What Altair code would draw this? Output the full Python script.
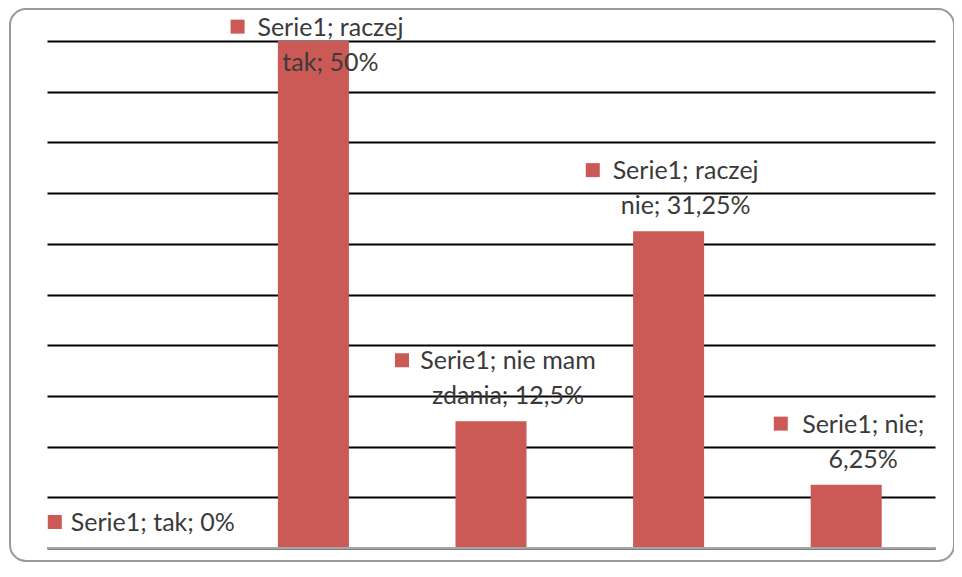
import altair as alt
import pandas as pd

categories = ["tak", "raczej tak", "nie mam zdania", "raczej nie", "nie"]
values = [0, 50, 12.5, 31.25, 6.25]
# data labels as wrapped in the original chart
label_line1 = ["Serie1; tak; 0%", "Serie1; raczej", "Serie1; nie mam", "Serie1; raczej", "Serie1; nie;"]
label_line2 = ["", "tak; 50%", "zdania; 12,5%", "nie; 31,25%", "6,25%"]
grid_values = [0, 5, 10, 15, 20, 25, 30, 35, 40, 45, 50]

BAR = "#CB5A56"
TXT = "#3a3a3a"
FONT = "Lato"
FS = 25
LH = 35

df = pd.DataFrame({
    "cat": categories,
    "value": values,
    "line1": label_line1,
    "line2": label_line2,
})
df["label"] = [a if not b else a + "\n" + b for a, b in zip(label_line1, label_line2)]
df["nlines"] = [1 if not b else 2 for b in label_line2]

W, H = 888, 507
PX = H / 50.0  # pixels per percentage point

x = alt.X("cat:N", sort=categories, axis=None,
          scale=alt.Scale(paddingInner=0.6, paddingOuter=0.3))
y = alt.Y("value:Q", scale=alt.Scale(domain=[0, 50], nice=False, zero=True),
          axis=alt.Axis(values=grid_values, labels=False, ticks=False, domain=False,
                        grid=True, gridColor="#000000", gridWidth=2, title=None))

base = alt.Chart(df)

frame = base.mark_rect(fill="transparent", stroke="#9a9a9a", strokeWidth=2,
                       cornerRadius=16, clip=False).encode(
    x=alt.value(-37), x2=alt.value(W + 19),
    y=alt.value(-32), y2=alt.value(H + 13),
).transform_filter("datum.cat == 'tak'")

bars = base.mark_bar(color=BAR).encode(x=x, y=y)

zero_rule = base.mark_rule(color="#a6a6a6", strokeWidth=2).encode(
    y=alt.datum(0), x=alt.value(0), x2=alt.value(W)
).transform_filter("datum.cat == 'tak'")

lab = base.transform_calculate(
    ly="min(datum.value, 45.4)",
).transform_calculate(
    tly=f"datum.ly + (datum.nlines - 1) * {LH} / {PX}",
    sqv=f"datum.ly + (26 + (datum.nlines - 1) * {LH}) / {PX}",
    nm="length(split(datum.line1, 'm')) - 1",
)

texts = lab.mark_text(align="center", baseline="bottom", dx=17, dy=-12,
                      fontSize=FS, font=FONT, color=TXT, lineHeight=LH,
                      lineBreak="\n", clip=False).encode(
    x=alt.X("cat:N", sort=categories),
    y=alt.Y("tly:Q"),
    text="label:N",
)

squares = lab.transform_calculate(
    sqx="35.5 + 17 - (length(datum.line1) * 10.4 + datum.nm * 8) / 2 - 20",
).mark_square(size=196, filled=True, color=BAR, opacity=1, clip=False).encode(
    x=alt.X("cat:N", sort=categories),
    y=alt.Y("sqv:Q"),
    xOffset=alt.XOffset("sqx:Q", scale=None),
)

chart = alt.layer(frame, bars, zero_rule, texts, squares).properties(
    width=W, height=H,
    autosize=alt.AutoSizeParams(type="none"),
    padding={"left": 39, "top": 33, "right": 19, "bottom": 21},
    background="white",
).configure_view(stroke=None)

chart.save("out.html", embed_options={"renderer": "svg", "actions": False})
